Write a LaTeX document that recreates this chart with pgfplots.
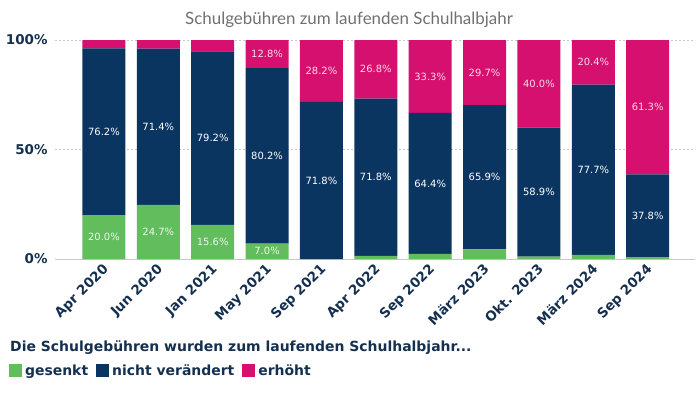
\documentclass[border=0pt]{standalone}
\usepackage{pgfplots}
\usepackage{pgfplotstable}
\pgfplotsset{compat=1.18}
\usepackage{fontspec}
\setmainfont{DejaVu Sans}
\newfontfamily\latofont{Lato}
\definecolor{cgreen}{HTML}{62BD5D}
\definecolor{cnavy}{HTML}{0B3561}
\definecolor{cpink}{HTML}{D6106E}
\definecolor{ctext}{HTML}{15304F}
\definecolor{ctitle}{HTML}{707070}
\definecolor{cgrid}{HTML}{C8C8C8}

\pgfplotstableread{
x g n e
0 20.0 76.2 3.8
1 24.7 71.4 3.9
2 15.6 79.2 5.2
3 7.0 80.2 12.8
4 0.0 71.8 28.2
5 1.4 71.8 26.8
6 2.3 64.4 33.3
7 4.4 65.9 29.7
8 1.1 58.9 40.0
9 1.9 77.7 20.4
10 0.9 37.8 61.3
}\datatable

\pgfplotstableread{
x y label
0 10.0 20.0\%
1 12.35 24.7\%
2 7.8 15.6\%
3 3.5 7.0\%
}\greenlabels

\pgfplotstableread{
x y label
0 58.1 76.2\%
1 60.4 71.4\%
2 55.2 79.2\%
3 47.1 80.2\%
4 35.9 71.8\%
5 37.3 71.8\%
6 34.5 64.4\%
7 37.35 65.9\%
8 30.55 58.9\%
9 40.75 77.7\%
10 19.8 37.8\%
}\navylabels

\pgfplotstableread{
x y label
3 93.6 12.8\%
4 85.9 28.2\%
5 86.6 26.8\%
6 83.35 33.3\%
7 85.15 29.7\%
8 80.0 40.0\%
9 89.8 20.4\%
10 69.35 61.3\%
}\pinklabels

\pgfplotsset{
  base/.style={
    at={(55bp,-259bp)}, anchor=south west,
    scale only axis, width=640bp, height=219bp,
    xmin=-0.9, xmax=10.87, ymin=0, ymax=100,
  }
}

\begin{document}
\begin{tikzpicture}
\path[use as bounding box] (0,0) rectangle (700bp,-394bp);
\begin{axis}[base,
  ybar stacked, bar width=43bp,
  axis lines*=left,
  x axis line style={cgrid, -},
  y axis line style={draw=none},
  ymajorgrids, grid style={cgrid, dash pattern=on 2bp off 2bp},
  ytick={0,50,100}, yticklabels={0\%,50\%,100\%},
  xtick={0,...,10},
  xticklabels={Apr 2020,Jun 2020,Jan 2021,May 2021,Sep 2021,Apr 2022,Sep 2022,M\"arz 2023,Okt. 2023,M\"arz 2024,Sep 2024},
  major tick length=0pt,
  x tick label style={rotate=45, anchor=north east, font=\bfseries\fontsize{13.5}{15}\selectfont, text=ctext, inner sep=1bp, xshift=-3bp},
  y tick label style={font=\bfseries\fontsize{13.5}{15}\selectfont, text=ctext, anchor=east, xshift=-4bp},
  legend style={at={(rel axis cs:-0.072,-0.511)}, anchor=west, draw=none, fill=none,
    legend columns=-1, font=\bfseries\fontsize{14}{16}\selectfont, text=ctext,
    /tikz/every even column/.append style={column sep=5bp},
    legend cell align=left, inner sep=0pt,
    nodes={inner xsep=3bp}},
  legend image code/.code={\fill[#1] (0bp,-6.5bp) rectangle (13bp,6.5bp);},
]
\addplot[fill=cgreen, draw=none] table[x=x, y=g] {\datatable};
\addplot[fill=cnavy, draw=none] table[x=x, y=n] {\datatable};
\addplot[fill=cpink, draw=none] table[x=x, y=e] {\datatable};
\legend{gesenkt, nicht ver\"andert, erh\"oht}
\end{axis}
\begin{axis}[base, hide axis,
  every node near coord/.style={anchor=center, font=\fontsize{10}{12}\selectfont},
]
\addplot[draw=none, mark=none, nodes near coords, point meta=explicit symbolic,
  every node near coord/.append style={text=white!90!cgreen}] table[x=x, y=y, meta=label] {\greenlabels};
\addplot[draw=none, mark=none, nodes near coords, point meta=explicit symbolic,
  every node near coord/.append style={text=white}] table[x=x, y=y, meta=label] {\navylabels};
\addplot[draw=none, mark=none, nodes near coords, point meta=explicit symbolic,
  every node near coord/.append style={text=white!85!cpink}] table[x=x, y=y, meta=label] {\pinklabels};
\end{axis}
\node[font=\latofont\fontsize{17}{20}\selectfont, text=ctitle] at (349bp,-20bp) {Schulgeb\"uhren zum laufenden Schulhalbjahr};
\node[anchor=west, font=\bfseries\fontsize{14}{16}\selectfont, text=ctext, inner sep=0pt] at (10bp,-348bp) {Die Schulgeb\"uhren wurden zum laufenden Schulhalbjahr...};
\end{tikzpicture}
\end{document}
